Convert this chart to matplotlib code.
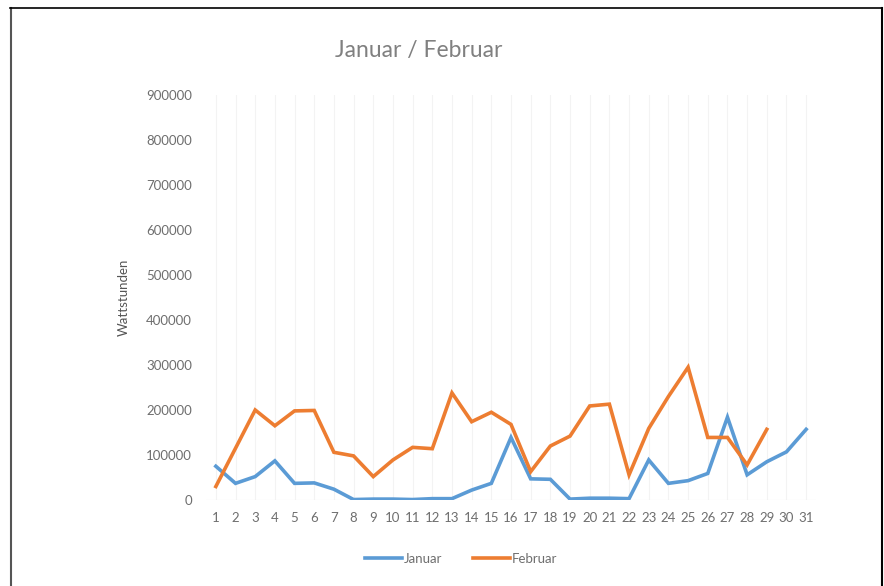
import matplotlib
matplotlib.use("Agg")
import matplotlib.pyplot as plt
from matplotlib.lines import Line2D

days = list(range(1, 32))
januar = [75000, 37000, 52000, 87000, 37000, 38000, 24000, 1000, 2000, 2000,
          1000, 3000, 3000, 22000, 37000, 139000, 47000, 46000, 2000, 4000,
          4000, 3000, 89000, 37000, 43000, 59000, 184000, 56000, 85000, 107000,
          157000]
feb_days = list(range(1, 30))
februar = [30000, 115000, 200000, 165000, 198000, 199000, 106000, 98000, 52000, 89000,
           117000, 114000, 238000, 174000, 195000, 168000, 63000, 120000, 142000, 209000,
           213000, 56000, 159000, 230000, 295000, 139000, 139000, 78000, 157000]
yticks = [0, 100000, 200000, 300000, 400000, 500000, 600000, 700000, 800000, 900000]

plt.rcParams['font.family'] = ['Lato', 'DejaVu Sans']
txt = '#6e6e6e'

fig = plt.figure(figsize=(8.84, 5.86), dpi=100)
ax = fig.add_axes([206/884, 1-500/586, 610/884, 405/586])

ax.plot(days, januar, color='#5b9bd5', lw=2.6, label='Januar', solid_joinstyle='miter')
ax.plot(feb_days, februar, color='#ed7d31', lw=2.6, label='Februar', solid_joinstyle='miter')

ax.set_xlim(0.5, 31.5)
ax.set_ylim(0, 900000)
ax.set_yticks(yticks)
ax.set_yticklabels([str(v) for v in yticks])
ax.set_xticks(days)
ax.set_xticklabels([str(d) for d in days])
ax.tick_params(axis='both', length=0, colors=txt, labelsize=9.5)
ax.tick_params(axis='x', pad=9)
ax.tick_params(axis='y', pad=10)
for s in ax.spines.values():
    s.set_visible(False)
for d in days:
    ax.axvline(d, color='#f3f3f3', lw=0.8, zorder=0)
ax.axhline(0, color='#e6e6e6', lw=0.8, zorder=0)

ax.set_ylabel('Wattstunden', color='#555555', fontsize=9.5, labelpad=12)
fig.text(419/884, 1-50/586, 'Januar / Februar', ha='center', va='center',
         fontsize=16.5, color='#808080')

leg = fig.legend(loc='center', bbox_to_anchor=(461/884, 1-559/586), ncol=2,
                 frameon=False, fontsize=9.5, handlelength=2.8, columnspacing=2.3,
                 handletextpad=0.15)
for t in leg.get_texts():
    t.set_color(txt)

fig.add_artist(Line2D([10.5/884, 10.5/884], [0, 1-8/586], transform=fig.transFigure,
                      color='#555555', lw=1.5))
fig.add_artist(Line2D([10/884, 882/884], [1-8/586, 1-8/586], transform=fig.transFigure,
                      color='black', lw=1.2))
fig.add_artist(Line2D([882/884, 882/884], [0, 1-8/586], transform=fig.transFigure,
                      color='black', lw=1.5))

fig.savefig('out.png', dpi=100)
